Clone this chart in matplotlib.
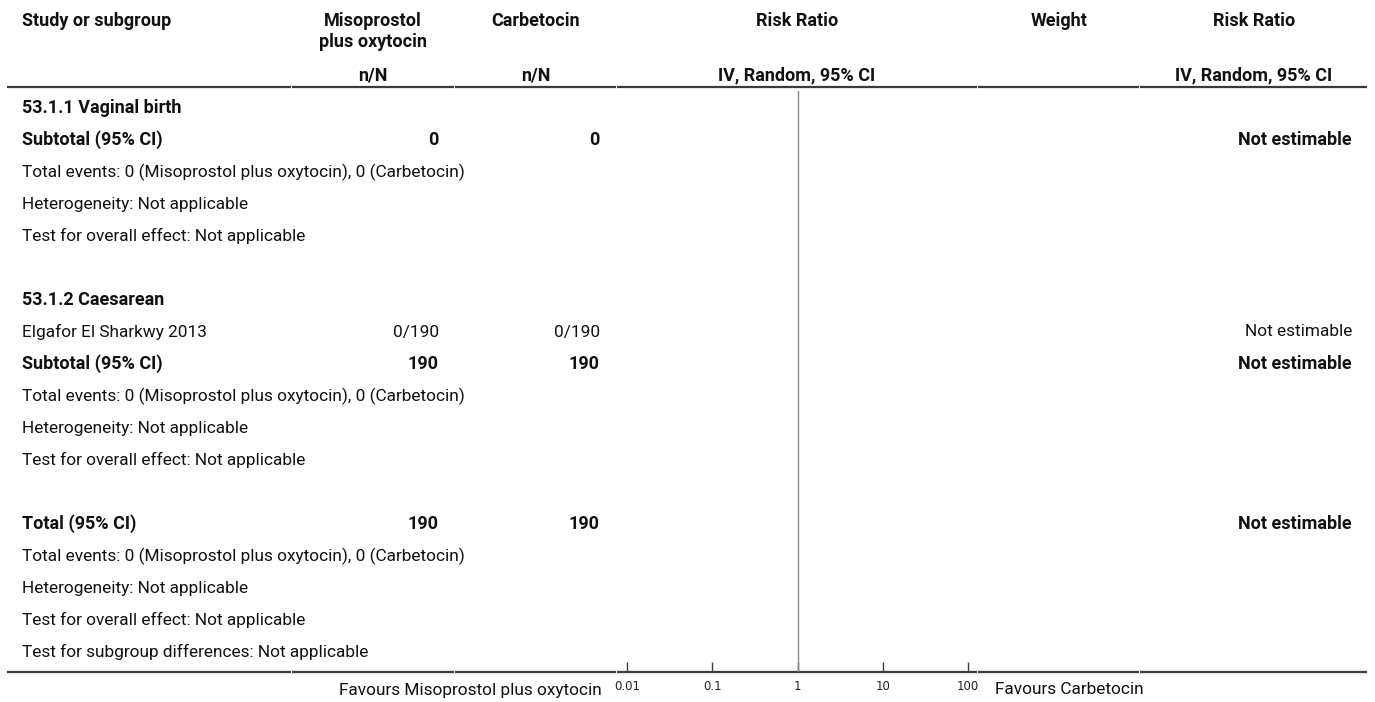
import matplotlib
matplotlib.use("Agg")
import matplotlib.pyplot as plt
from matplotlib.ticker import NullLocator

plt.rcParams['font.family'] = ['Roboto', 'DejaVu Sans']

# ---- data ----
study_labels = [
    "53.1.1 Vaginal birth",
    "Subtotal (95% CI)",
    "Total events: 0 (Misoprostol plus oxytocin), 0 (Carbetocin)",
    "Heterogeneity: Not applicable",
    "Test for overall effect: Not applicable",
    "",
    "53.1.2 Caesarean",
    "Elgafor El Sharkwy 2013",
    "Subtotal (95% CI)",
    "Total events: 0 (Misoprostol plus oxytocin), 0 (Carbetocin)",
    "Heterogeneity: Not applicable",
    "Test for overall effect: Not applicable",
    "",
    "Total (95% CI)",
    "Total events: 0 (Misoprostol plus oxytocin), 0 (Carbetocin)",
    "Heterogeneity: Not applicable",
    "Test for overall effect: Not applicable",
    "Test for subgroup differences: Not applicable",
]
miso_values = ["", "0", "", "", "", "", "", "0/190", "190", "", "", "", "", "190", "", "", "", ""]
carb_values = ["", "0", "", "", "", "", "", "0/190", "190", "", "", "", "", "190", "", "", "", ""]
rr_values = ["", "Not estimable", "", "", "", "", "", "Not estimable", "Not estimable", "", "", "", "",
             "Not estimable", "", "", "", ""]
bold_rows = [0, 1, 6, 8, 13]

tick_values = [0.01, 0.1, 1, 10, 100]
tick_labels = ["0.01", "0.1", "1", "10", "100"]
favours_left = "Favours Misoprostol plus oxytocin"
favours_right = "Favours Carbetocin"

# ---- layout ----
W, H = 1375, 702
fig = plt.figure(figsize=(W / 100, H / 100), dpi=100)
ax = fig.add_axes([0, 0, 1, 1])
ax.set_xlim(0, W)
ax.set_ylim(H, 0)
ax.axis('off')

fs = 12.4
fsb = 13.0
hc = '#111111'
lc = '#3a3a3a'

# column boundaries
cols = [7, 292, 455, 617, 978, 1140, 1367]

def rule(y, lw):
    for a, b in zip(cols[:-1], cols[1:]):
        ax.plot([a + (0 if a == cols[0] else 0.5), b - (0 if b == cols[-1] else 0.5)], [y, y],
                color=lc, lw=lw, solid_capstyle='butt')

# header
def hdr(x, y, s, ha='center'):
    ax.text(x, y, s, fontsize=fsb, fontweight='bold', va='center', ha=ha, color=hc)

hdr(22, 21, "Study or subgroup", ha='left')
hdr(373, 21, "Misoprostol")
hdr(373, 42, "plus oxytocin")
hdr(536, 21, "Carbetocin")
hdr(797, 21, "Risk Ratio")
hdr(1059, 21, "Weight")
hdr(1254, 21, "Risk Ratio")
hdr(373, 75, "n/N")
hdr(536, 75, "n/N")
hdr(797, 75, "IV, Random, 95% CI")
hdr(1254, 75, "IV, Random, 95% CI")
rule(87, 1.6)

# rows
y0, dy = 108, 32
for i, lab in enumerate(study_labels):
    y = y0 + i * dy
    b = i in bold_rows
    w = 'bold' if b else 'normal'
    f = fsb if b else fs
    if lab:
        ax.text(22, y, lab, fontsize=f, fontweight=w, va='center', ha='left', color=hc)
    if miso_values[i]:
        ax.text(439, y, miso_values[i], fontsize=f, fontweight=w, va='center', ha='right', color=hc)
    if carb_values[i]:
        ax.text(600, y, carb_values[i], fontsize=f, fontweight=w, va='center', ha='right', color=hc)
    if rr_values[i]:
        ax.text(1352, y, rr_values[i], fontsize=f, fontweight=w, va='center', ha='right', color=hc)

# bottom rule
rule(672, 1.6)

# forest axis
x_left, x_right = 627, 968
y_top, y_bot = 91, 672
fax = fig.add_axes([x_left / W, 1 - y_bot / H, (x_right - x_left) / W, (y_bot - y_top) / H])
fax.set_xscale('log')
fax.set_xlim(tick_values[0], tick_values[-1])
fax.set_ylim(0, 1)
fax.patch.set_alpha(0)
for s in ['top', 'right', 'left', 'bottom']:
    fax.spines[s].set_visible(False)
fax.set_yticks([])
fax.set_xticks(tick_values)
fax.set_xticklabels(tick_labels, family='DejaVu Sans')
fax.xaxis.set_minor_locator(NullLocator())
fax.tick_params(axis='x', direction='in', length=7, width=1.0, color=lc,
                labelsize=8.5, pad=6, labelcolor='#222222')
fax.axvline(1, color='#8a8a8a', lw=1.0)

ax.text(602, 690, favours_left, fontsize=fs, va='center', ha='right', color=hc)
ax.text(995, 690, favours_right, fontsize=fs, va='center', ha='left', color=hc)

fig.savefig("out.png", dpi=100)
